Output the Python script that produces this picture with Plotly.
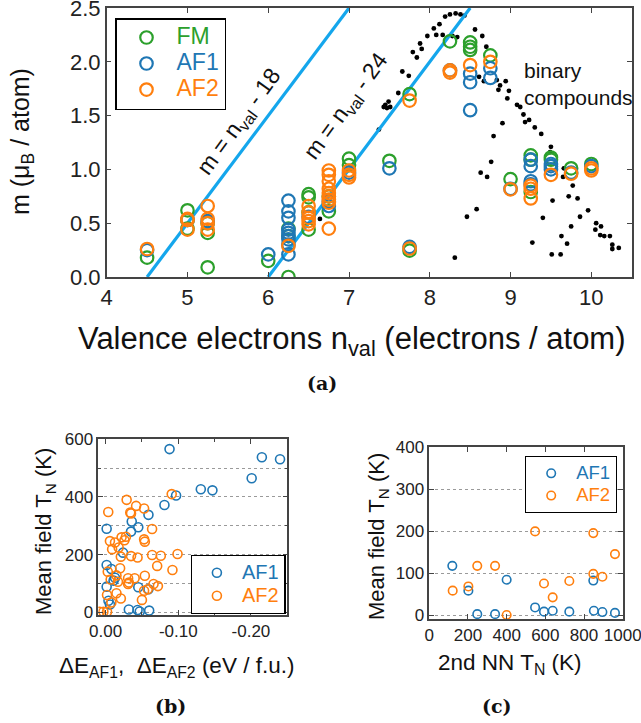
import plotly.graph_objects as go

# ---------------- Panel (a) data ----------------
fm_x = [4.5, 5.0, 5.0, 5.0, 5.25, 5.25, 5.25, 6.0, 6.25, 6.25, 6.25, 6.5, 6.5, 6.5, 6.5,
        6.75, 6.75, 7.0, 7.0, 7.5, 7.75, 7.75, 8.25, 8.5, 8.5, 8.5, 8.75, 9.0, 9.25, 9.25,
        9.25, 9.5, 9.5, 9.75, 10.0]
fm_m = [0.18, 0.62, 0.53, 0.45, 0.41, 0.09, 0.50, 0.15, 0.00, 0.45, 0.38, 0.77, 0.74, 0.44, 0.60,
        0.61, 0.75, 1.10, 1.04, 1.08, 1.70, 0.245, 2.19, 2.18, 2.14, 2.11, 2.06, 0.91, 1.13, 0.79,
        1.09, 1.11, 1.09, 1.01, 1.05]

af1_x = [4.5, 5.0, 5.25, 6.0, 6.25, 6.25, 6.25, 6.25, 6.25, 6.25, 6.25, 6.25, 6.25, 6.5,
         6.75, 6.75, 7.0, 7.5, 7.75, 8.25, 8.5, 8.5, 8.5, 8.75, 8.75, 9.0, 9.25, 9.25, 9.25,
         9.25, 9.5, 9.5, 9.5, 9.75, 10.0]
af1_m = [0.25, 0.53, 0.52, 0.21, 0.71, 0.61, 0.55, 0.44, 0.41, 0.38, 0.35, 0.30, 0.21, 0.56,
         0.66, 0.70, 0.97, 1.01, 0.28, 1.92, 1.89, 1.81, 1.55, 1.94, 1.85, 0.82, 1.09, 1.03, 0.89,
         0.86, 1.05, 1.03, 1.00, 0.97, 1.03]

af2_x = [4.5, 5.0, 5.0, 5.0, 5.25, 5.25, 5.25, 5.25, 6.25, 6.5, 6.5, 6.5, 6.5, 6.5,
         6.75, 6.75, 6.75, 6.75, 6.75, 6.75, 6.75, 6.75, 6.75, 7.0, 7.0, 7.0, 7.75, 7.75,
         8.25, 8.25, 8.5, 8.75, 9.0, 9.25, 9.25, 9.25, 9.5, 9.75, 10.0, 10.0]
af2_m = [0.26, 0.54, 0.53, 0.44, 0.66, 0.54, 0.50, 0.44, 0.29, 0.66, 0.60, 0.55, 0.52, 0.49,
         0.99, 0.95, 0.89, 0.82, 0.78, 0.75, 0.72, 0.69, 0.45, 0.99, 0.95, 0.925, 1.64, 0.265,
         1.92, 1.90, 1.97, 2.00, 0.815, 0.85, 0.82, 0.73, 0.95, 0.96, 1.01, 0.99]

bin_x = [6.64, 7.37, 7.43, 7.45, 7.47, 7.49, 7.51, 7.61, 7.66, 7.74, 7.79, 7.84, 7.88, 7.90,
         7.97, 8.05, 8.08, 8.12, 8.16, 8.19, 8.25, 8.28, 8.32, 8.34, 8.38, 8.43, 8.56, 8.65,
         8.70, 8.61, 8.67, 8.83, 8.87, 8.94, 8.85, 8.98, 8.96, 9.08, 9.12, 9.16, 9.18, 9.23,
         9.30, 9.38, 9.50, 9.49, 9.66, 9.65, 9.77, 9.72, 9.83, 9.96, 9.86, 10.06, 10.12, 10.05,
         10.11, 10.16, 10.23, 10.26, 10.26, 10.34, 9.75, 9.63, 9.70, 9.52, 9.40, 9.27, 9.51,
         9.62, 8.90, 8.79, 8.76, 8.63, 8.71, 8.58, 8.46, 8.31]
bin_m = [0.54, 1.37, 1.58, 1.60, 1.57, 1.63, 1.58, 1.71, 1.91, 1.87, 2.09, 2.04, 2.17, 2.12,
         2.24, 2.31, 2.25, 2.35, 2.25, 2.42, 2.44, 2.24, 2.45, 2.23, 2.44, 2.43, 2.30, 2.24,
         2.14, 1.86, 1.82, 1.83, 1.78, 1.82, 1.74, 1.73, 1.66, 1.60, 1.58, 1.51, 1.44, 1.46,
         1.39, 1.33, 1.21, 1.16, 1.01, 0.93, 0.85, 0.75, 0.73, 0.62, 0.56, 0.50, 0.47, 0.44,
         0.39, 0.38, 0.38, 0.30, 0.26, 0.27, 0.47, 0.38, 0.31, 0.71, 0.55, 0.32, 0.21,
         0.21, 1.43, 1.31, 1.07, 0.97, 0.93, 0.63, 0.56, 0.18]

line18_x = [4.5, 7.0]
line18_m = [0.0, 2.5]
line24_x = [6.0, 8.5]
line24_m = [0.0, 2.5]

a_xticks = [4, 5, 6, 7, 8, 9, 10]
a_yticks = [0.0, 0.5, 1.0, 1.5, 2.0, 2.5]

# ---------------- Panel (b) data ----------------
b_af1_de = [-0.088, -0.215, -0.240, -0.201, -0.131, -0.147, -0.097, -0.081, -0.059, -0.036,
            -0.045, -0.0015, -0.035, -0.024, -0.0015, -0.011, -0.0015, -0.045, -0.059, -0.006,
            -0.032, -0.044, -0.047, -0.060, -0.004, -0.008, -0.013]
b_af1_tn = [566, 538, 531, 465, 427, 423, 405, 372, 338, 315,
            295, 290, 280, 207, 164, 110, 89, 87, 80, 27,
            10, 8, 3, 6, 40, 150, 120]

b_af2_de = [-0.029, -0.0037, -0.042, -0.053, -0.034, -0.035, -0.064, -0.091, -0.006, -0.022,
            -0.028, -0.013, -0.018, -0.009, -0.053, -0.054, -0.021, -0.035, -0.044, -0.064,
            -0.076, -0.099, -0.071, -0.092, -0.003, -0.020, -0.015, -0.007, -0.017, -0.031,
            -0.040, -0.054, -0.031, -0.066, -0.072, -0.053, -0.058, -0.002, -0.015, -0.021,
            -0.050, -0.008, 0.008, 0.003, -0.002, -0.026, -0.032]
b_af2_tn = [390, 348, 369, 360, 346, 343, 289, 410, 247, 260,
            262, 242, 225, 219, 253, 245, 193, 195, 190, 199,
            196, 202, 161, 147, 141, 153, 128, 114, 106, 118,
            118, 127, 98, 98, 91, 75, 80, 60, 66, 48,
            43, 34, 2, 2, 2, 250, 103]

b_xticks = [0, -0.1, -0.2]
b_xlabels = ["0.00", "-0.10", "-0.20"]
b_yticks = [0, 200, 400, 600]

# ---------------- Panel (c) data ----------------
c_af1_nn = [119, 202, 248, 340, 400, 547, 593, 638, 724, 848, 851, 895, 960]
c_af1_tn = [117, 58, 2, 2, 84, 18, 8, 10, 8, 82, 10, 7, 5]
c_af2_nn = [121, 202, 248, 340, 400, 547, 848, 593, 638, 724, 848, 895, 960]
c_af2_tn = [58, 68, 117, 117, 0, 199, 195, 75, 42, 81, 98, 91, 145]

c_xticks = [0, 200, 400, 600, 800, 1000]
c_yticks = [0, 100, 200, 300, 400]

GREEN = "#2ca02c"
BLUE = "#1f77b4"
ORANGE = "#ff7f0e"
LINEBLUE = "#14a6ec"
FONT = "Liberation Sans, Arial, sans-serif"
AXC = "#444444"
TXT = "#111111"


def lname(nm, col, size):
    return f"<span style='color:{col};font-size:{size}px'>{nm}</span>"


fig = go.Figure()

# panel (a)
fig.add_trace(go.Scatter(x=bin_x, y=bin_m, mode="markers", showlegend=False,
                         marker=dict(color="black", size=4.8), xaxis="x", yaxis="y"))
fig.add_trace(go.Scatter(x=line18_x, y=line18_m, mode="lines", showlegend=False,
                         line=dict(color=LINEBLUE, width=3.2), xaxis="x", yaxis="y"))
fig.add_trace(go.Scatter(x=line24_x, y=line24_m, mode="lines", showlegend=False,
                         line=dict(color=LINEBLUE, width=3.2), xaxis="x", yaxis="y"))
for xs, ys, col, nm in [(fm_x, fm_m, GREEN, "FM"), (af1_x, af1_m, BLUE, "AF1"),
                        (af2_x, af2_m, ORANGE, "AF2")]:
    fig.add_trace(go.Scatter(x=xs, y=ys, mode="markers", name=lname(nm, col, 23),
                             marker=dict(symbol="circle-open", size=12.5, color=col,
                                         line=dict(width=2.2, color=col)),
                             xaxis="x", yaxis="y", legend="legend"))

# panel (b)
for xs, ys, col, nm in [(b_af1_de, b_af1_tn, BLUE, "AF1"), (b_af2_de, b_af2_tn, ORANGE, "AF2")]:
    fig.add_trace(go.Scatter(x=xs, y=ys, mode="markers", name=lname(nm, col, 20),
                             marker=dict(symbol="circle-open", size=9, color=col,
                                         line=dict(width=1.6, color=col)),
                             xaxis="x2", yaxis="y2", legend="legend2"))

# panel (c)
for xs, ys, col, nm in [(c_af1_nn, c_af1_tn, BLUE, "AF1"), (c_af2_nn, c_af2_tn, ORANGE, "AF2")]:
    fig.add_trace(go.Scatter(x=xs, y=ys, mode="markers", name=lname(nm, col, 18.5),
                             marker=dict(symbol="circle-open", size=8.5, color=col,
                                         line=dict(width=1.6, color=col)),
                             xaxis="x3", yaxis="y3", legend="legend3"))

W, H = 641, 723


def px_x(p):
    return p / W


def px_y(p):
    return 1 - p / H


axbase = dict(showline=True, linecolor=AXC, linewidth=1.5, mirror="ticks", ticks="inside",
              tickcolor=AXC, ticklen=5, tickwidth=1.2, zeroline=False, showgrid=False,
              color="#222222", automargin=False, ticklabeloverflow="allow")

GRIDC = "#9a9a9a"

fig.update_layout(
    template="none",
    width=W, height=H, margin=dict(l=0, r=0, t=0, b=0, autoexpand=False),
    paper_bgcolor="white", plot_bgcolor="white",
    font=dict(family=FONT, color="#222222"),
    xaxis=dict(axbase, domain=[px_x(106.7), px_x(631.7)], range=[4, 10.5],
               tickvals=a_xticks, tickfont=dict(size=22), anchor="y"),
    yaxis=dict(axbase, domain=[px_y(277), px_y(8)], range=[0, 2.5], tickvals=a_yticks,
               tickformat=".1f", tickfont=dict(size=22), anchor="x"),
    xaxis2=dict(axbase, domain=[px_x(98.3), px_x(287.3)], range=[0.01, -0.25],
                tickvals=b_xticks, ticktext=b_xlabels,
                minor=dict(dtick=0.05, ticks="inside", ticklen=3, tickcolor=AXC),
                tickfont=dict(size=17), anchor="y2"),
    yaxis2=dict(axbase, domain=[px_y(615.2), px_y(439.3)],
                range=[-10, 600], tickvals=b_yticks,
                showgrid=True, gridcolor=GRIDC, griddash="dot", gridwidth=1,
                minor=dict(dtick=100, tick0=0, showgrid=True, gridcolor=GRIDC,
                           griddash="dot", ticks="inside", ticklen=3, tickcolor=AXC),
                tickfont=dict(size=17), anchor="x2"),
    xaxis3=dict(axbase, domain=[px_x(429.3), px_x(622.7)], range=[0, 1000],
                tickvals=c_xticks, tickfont=dict(size=17), anchor="y3"),
    yaxis3=dict(axbase, domain=[px_y(619.2), px_y(447)],
                showgrid=True, gridcolor=GRIDC, griddash="dot", gridwidth=1,
                range=[-10, 400], tickvals=c_yticks, tickfont=dict(size=17), anchor="x3"),
    legend=dict(x=px_x(115), y=px_y(18), xanchor="left", yanchor="top",
                bgcolor="white", bordercolor="black", borderwidth=1.5,
                font=dict(size=17.7, family=FONT), itemwidth=50, tracegroupgap=0),
    legend2=dict(x=px_x(190.7), y=px_y(555), xanchor="left", yanchor="top",
                 bgcolor="white", bordercolor="black", borderwidth=1.2,
                 font=dict(size=15.4, family=FONT), itemwidth=40),
    legend3=dict(x=px_x(525), y=px_y(456), xanchor="left", yanchor="top",
                 bgcolor="white", bordercolor="black", borderwidth=1.2,
                 font=dict(size=14.8, family=FONT), itemwidth=40),
)


def note(text, x, y, size, angle=0, family=None, xref="paper", yref="paper",
         xanchor="center", align="center"):
    f = dict(size=size, color=TXT)
    if family:
        f["family"] = family
    return dict(text=text, x=x, y=y, xref=xref, yref=yref, textangle=angle,
                xanchor=xanchor, yanchor="middle", align=align, showarrow=False, font=f)


ann = [
    note("m = n<sub>val</sub> - 18", 5.64, 1.44, 23, -54, xref="x", yref="y"),
    note("m = n<sub>val</sub> - 24", 6.97, 1.585, 23, -54, xref="x", yref="y"),
    note("binary<br>compounds", px_x(522), px_y(84), 21, xanchor="left", align="left"),
    note("Valence electrons n<sub>val</sub> (electrons / atom)", px_x(352), px_y(341), 31),
    note("m (μ<sub>B</sub> / atom)", px_x(22), px_y(142), 25, -90),
    note("<b>(a)</b>", px_x(322), px_y(383), 19, family="DejaVu Serif"),
    note("Mean field T<sub>N</sub> (K)", px_x(45), px_y(532), 22, -90),
    note("ΔE<sub>AF1</sub>,  ΔE<sub>AF2</sub> (eV / f.u.)", px_x(176), px_y(667), 22.5),
    note("<b>(b)</b>", px_x(170), px_y(706), 19, family="DejaVu Serif"),
    note("Mean field T<sub>N</sub> (K)", px_x(378), px_y(537), 22, -90),
    note("2nd NN T<sub>N</sub> (K)", px_x(510), px_y(664), 22.5),
    note("<b>(c)</b>", px_x(497), px_y(706), 19, family="DejaVu Serif"),
]

fig.update_layout(annotations=ann)
fig.write_html("out.html")
